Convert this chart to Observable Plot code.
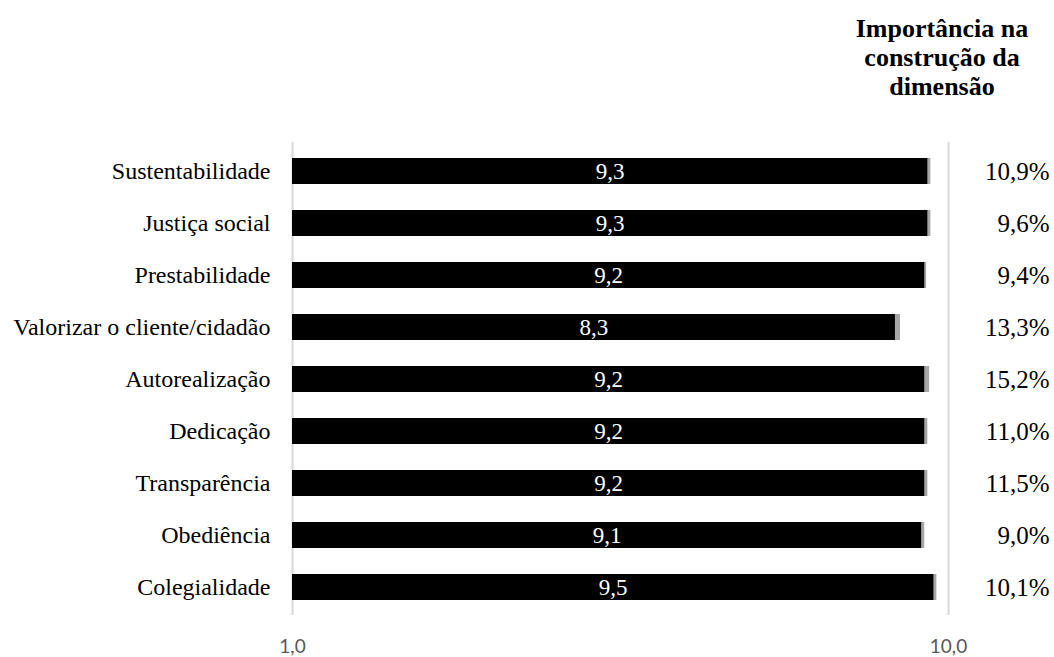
<!DOCTYPE html>
<html>
<head>
<meta charset="utf-8">
<script src="https://cdn.jsdelivr.net/npm/d3@7"></script>
<script src="https://cdn.jsdelivr.net/npm/@observablehq/plot@0.6"></script>
<style>
  body { margin: 0; background: #fff; }
  #wrap { width: 1054px; height: 657px; position: relative; }
  #header {
    height: 100px; box-sizing: border-box; padding: 14px 7px 0 0;
    display: flex; justify-content: flex-end;
  }
  #header div {
    width: 210px; text-align: center;
    font: bold 26px "Liberation Serif", serif; line-height: 29px; color: #000;
  }
</style>
</head>
<body>
<div id="wrap">
  <div id="header"><div>Importância na<br>construção da<br>dimensão</div></div>
  <div id="chart"></div>
</div>
<script>
// Values per dimension item: mean score (black bar), small extra segment (grey), and weight
const categories = [
  "Sustentabilidade", "Justiça social", "Prestabilidade", "Valorizar o cliente/cidadão",
  "Autorealização", "Dedicação", "Transparência", "Obediência", "Colegialidade"
];
const scores = [9.3, 9.3, 9.2, 8.3, 9.2, 9.2, 9.2, 9.1, 9.5];
const spread = [0.1, 0.1, 0.06, 0.15, 0.16, 0.1, 0.1, 0.1, 0.1];
const importance = [10.9, 9.6, 9.4, 13.3, 15.2, 11.0, 11.5, 9.0, 10.1];
const tickValues = [1, 10];
const tickLabels = ["1,0", "10,0"];

const rows = categories.map((category, i) => ({
  category, score: scores[i], spread: spread[i], importance: importance[i]
}));
const fmt = v => v.toFixed(1).replace(".", ",");

const chart = Plot.plot({
  width: 1054,
  height: 557,
  marginLeft: 292,
  marginRight: 106,
  marginTop: 42,
  marginBottom: 42,
  style: { fontFamily: "'Liberation Serif', serif", fontSize: "24px", color: "#000", background: "#fff", overflow: "visible" },
  x: { type: "log", domain: [1, 10] },
  y: { domain: categories, paddingInner: 0.5, paddingOuter: 0.25 },
  marks: [
    Plot.ruleX(tickValues, { stroke: "#d9d9d9", strokeWidth: 2 }),
    Plot.barX(rows, { y: "category", x1: 1, x2: d => d.score + d.spread, fill: "#a6a6a6" }),
    Plot.barX(rows, { y: "category", x1: 1, x2: "score", fill: "#000" }),
    // value label at the visual middle of each bar (geometric mean on a log axis)
    Plot.text(rows, { y: "category", x: d => Math.sqrt(d.score), text: d => fmt(d.score), fill: "#fff", fontSize: 23 }),
    // weight column on the right
    Plot.text(rows, { y: "category", frameAnchor: "right", dx: 101, textAnchor: "end", text: d => fmt(d.importance) + "%", fill: "#000", fontSize: 25 }),
    Plot.axisX(tickValues, {
      tickSize: 0, tickPadding: 24, label: null,
      tickFormat: d => tickLabels[tickValues.indexOf(d)],
      fontFamily: "Lato, sans-serif", fontSize: 19, fill: "#595959"
    }),
    Plot.axisY({ tickSize: 0, tickPadding: 22, label: null, fontSize: 24, fill: "#000" })
  ]
});
document.getElementById("chart").appendChild(chart);
</script>
</body>
</html>
